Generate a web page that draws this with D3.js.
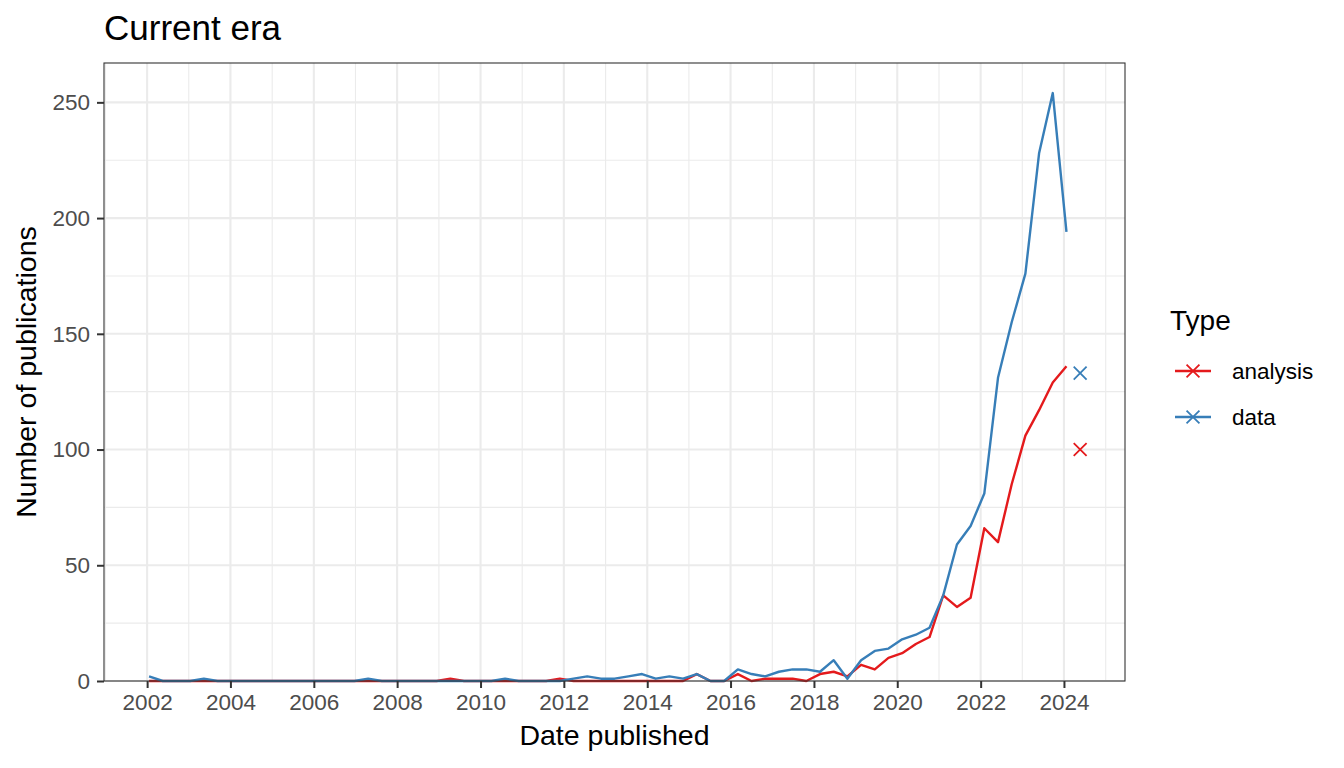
<!DOCTYPE html>
<html>
<head>
<meta charset="utf-8">
<script src="https://cdn.jsdelivr.net/npm/d3@7"></script>
<style>
  body { margin: 0; background: #fff; }
  text { font-family: "Liberation Sans", Arial, Helvetica, sans-serif; }
</style>
</head>
<body>
<script>
// publications per 120-day bin, first bin starting 2002-01-18
const binStart = "2002-01-18";
const binDays = 120;
const types = ["analysis", "data"];
const colors = ["#E41A1C", "#377EB8"];

const analysisCounts = [
  0, 0, 0, 0, 0, 0, 0, 0, 0, 0,
  0, 0, 0, 0, 0, 0, 0, 0, 0, 0,
  0, 0, 1, 0, 0, 0, 0, 0, 0, 0,
  1, 0, 0, 0, 0, 0, 0, 0, 0, 0,
  3, 0, 0, 3, 0, 1, 1, 1, 0, 3,
  4, 2, 7, 5, 10, 12, 16, 19, 37, 32,
  36, 66, 60, 85, 106, 117, 129, 136
];
const dataCounts = [
  2, 0, 0, 0, 1, 0, 0, 0, 0, 0,
  0, 0, 0, 0, 0, 0, 1, 0, 0, 0,
  0, 0, 0, 0, 0, 0, 1, 0, 0, 0,
  0, 1, 2, 1, 1, 2, 3, 1, 2, 1,
  3, 0, 0, 5, 3, 2, 4, 5, 5, 4,
  9, 1, 9, 13, 14, 18, 20, 23, 37, 59,
  67, 81, 131, 155, 176, 228, 254, 194
];
// latest (incomplete) bin, shown as crosses
const partialCounts = [100, 133];

const xTickYears = [2002, 2004, 2006, 2008, 2010, 2012, 2014, 2016, 2018, 2020, 2022, 2024];
const xMinorYears = [2001, 2003, 2005, 2007, 2009, 2011, 2013, 2015, 2017, 2019, 2021, 2023, 2025];
const yTicks = [0, 50, 100, 150, 200, 250];
const yMinor = [25, 75, 125, 175, 225];

const width = 1344;
const height = 768;
const panel = { left: 104, right: 1125, top: 63, bottom: 681 };

const start = d3.timeParse("%Y-%m-%d")(binStart);
const binDate = i => d3.timeDay.offset(start, i * binDays);
const seriesCounts = [analysisCounts, dataCounts];

const x = d3.scaleTime()
  .domain([new Date(2000, 11, 19), new Date(2025, 5, 19)])
  .range([panel.left, panel.right]);
const y = d3.scaleLinear()
  .domain([0, 267])
  .range([panel.bottom, panel.top]);

const svg = d3.select("body").append("svg")
  .attr("width", width)
  .attr("height", height);

// grid
const grid = svg.append("g");
grid.selectAll(".xminor").data(xMinorYears).enter().append("line")
  .attr("x1", d => x(new Date(d, 0, 1))).attr("x2", d => x(new Date(d, 0, 1)))
  .attr("y1", panel.top).attr("y2", panel.bottom)
  .attr("stroke", "#EBEBEB").attr("stroke-width", 1.1);
grid.selectAll(".yminor").data(yMinor).enter().append("line")
  .attr("x1", panel.left).attr("x2", panel.right)
  .attr("y1", d => y(d)).attr("y2", d => y(d))
  .attr("stroke", "#EBEBEB").attr("stroke-width", 1.1);
grid.selectAll(".xmajor").data(xTickYears).enter().append("line")
  .attr("x1", d => x(new Date(d, 0, 1))).attr("x2", d => x(new Date(d, 0, 1)))
  .attr("y1", panel.top).attr("y2", panel.bottom)
  .attr("stroke", "#EBEBEB").attr("stroke-width", 2.1);
grid.selectAll(".ymajor").data(yTicks).enter().append("line")
  .attr("x1", panel.left).attr("x2", panel.right)
  .attr("y1", d => y(d)).attr("y2", d => y(d))
  .attr("stroke", "#EBEBEB").attr("stroke-width", 2.1);

// lines
const line = d3.line()
  .x((d, i) => x(binDate(i)))
  .y(d => y(d));

svg.selectAll(".series")
  .data(seriesCounts)
  .enter()
  .append("path")
  .attr("d", d => line(d))
  .attr("fill", "none")
  .attr("stroke", (d, i) => colors[i])
  .attr("stroke-width", 2.4)
  .attr("stroke-linejoin", "round");

// crosses for the partial bin
const cross = d3.symbol().type(d3.symbolTimes).size(110);
svg.selectAll(".partial")
  .data(partialCounts)
  .enter()
  .append("path")
  .attr("transform", d => `translate(${x(binDate(analysisCounts.length))},${y(d)})`)
  .attr("d", cross)
  .attr("fill", "none")
  .attr("stroke", (d, i) => colors[i])
  .attr("stroke-width", 1.8);

// panel border
svg.append("rect")
  .attr("x", panel.left).attr("y", panel.top)
  .attr("width", panel.right - panel.left)
  .attr("height", panel.bottom - panel.top)
  .attr("fill", "none")
  .attr("stroke", "#333333")
  .attr("stroke-width", 1.1);

// axes
const xAxis = d3.axisBottom(x)
  .tickValues(xTickYears.map(d => new Date(d, 0, 1)))
  .tickFormat(d3.timeFormat("%Y"))
  .tickSize(7)
  .tickPadding(6);
const yAxis = d3.axisLeft(y)
  .tickValues(yTicks)
  .tickSize(7)
  .tickPadding(7);

const gx = svg.append("g")
  .attr("transform", `translate(0,${panel.bottom})`)
  .call(xAxis);
const gy = svg.append("g")
  .attr("transform", `translate(${panel.left},0)`)
  .call(yAxis);

[gx, gy].forEach(g => {
  g.select(".domain").remove();
  g.selectAll(".tick line").attr("stroke", "#333333").attr("stroke-width", 2);
  g.selectAll(".tick text")
    .attr("fill", "#4D4D4D")
    .style("font-size", "22.5px")
    .style("font-family", "'Liberation Sans', Arial, sans-serif");
});
gx.selectAll(".tick text").attr("dy", "0.71em");

// titles
svg.append("text")
  .attr("x", panel.left)
  .attr("y", 40)
  .style("font-size", "35px")
  .text("Current era");

svg.append("text")
  .attr("x", (panel.left + panel.right) / 2)
  .attr("y", 745)
  .attr("text-anchor", "middle")
  .style("font-size", "28.5px")
  .text("Date published");

svg.append("text")
  .attr("transform", `translate(36,${(panel.top + panel.bottom) / 2}) rotate(-90)`)
  .attr("text-anchor", "middle")
  .style("font-size", "28.5px")
  .text("Number of publications");

// legend
const legend = svg.append("g");
legend.append("text")
  .attr("x", 1170)
  .attr("y", 330)
  .style("font-size", "28px")
  .text("Type");

const keys = legend.selectAll(".key")
  .data(types)
  .enter()
  .append("g")
  .attr("transform", (d, i) => `translate(1193,${371 + i * 46})`);

keys.append("line")
  .attr("x1", -18).attr("x2", 18)
  .attr("stroke", (d, i) => colors[i])
  .attr("stroke-width", 2.4);
keys.append("path")
  .attr("d", cross)
  .attr("fill", "none")
  .attr("stroke", (d, i) => colors[i])
  .attr("stroke-width", 1.8);
keys.append("text")
  .attr("x", 39)
  .attr("dy", "0.36em")
  .style("font-size", "22.5px")
  .text(d => d);
</script>
</body>
</html>
